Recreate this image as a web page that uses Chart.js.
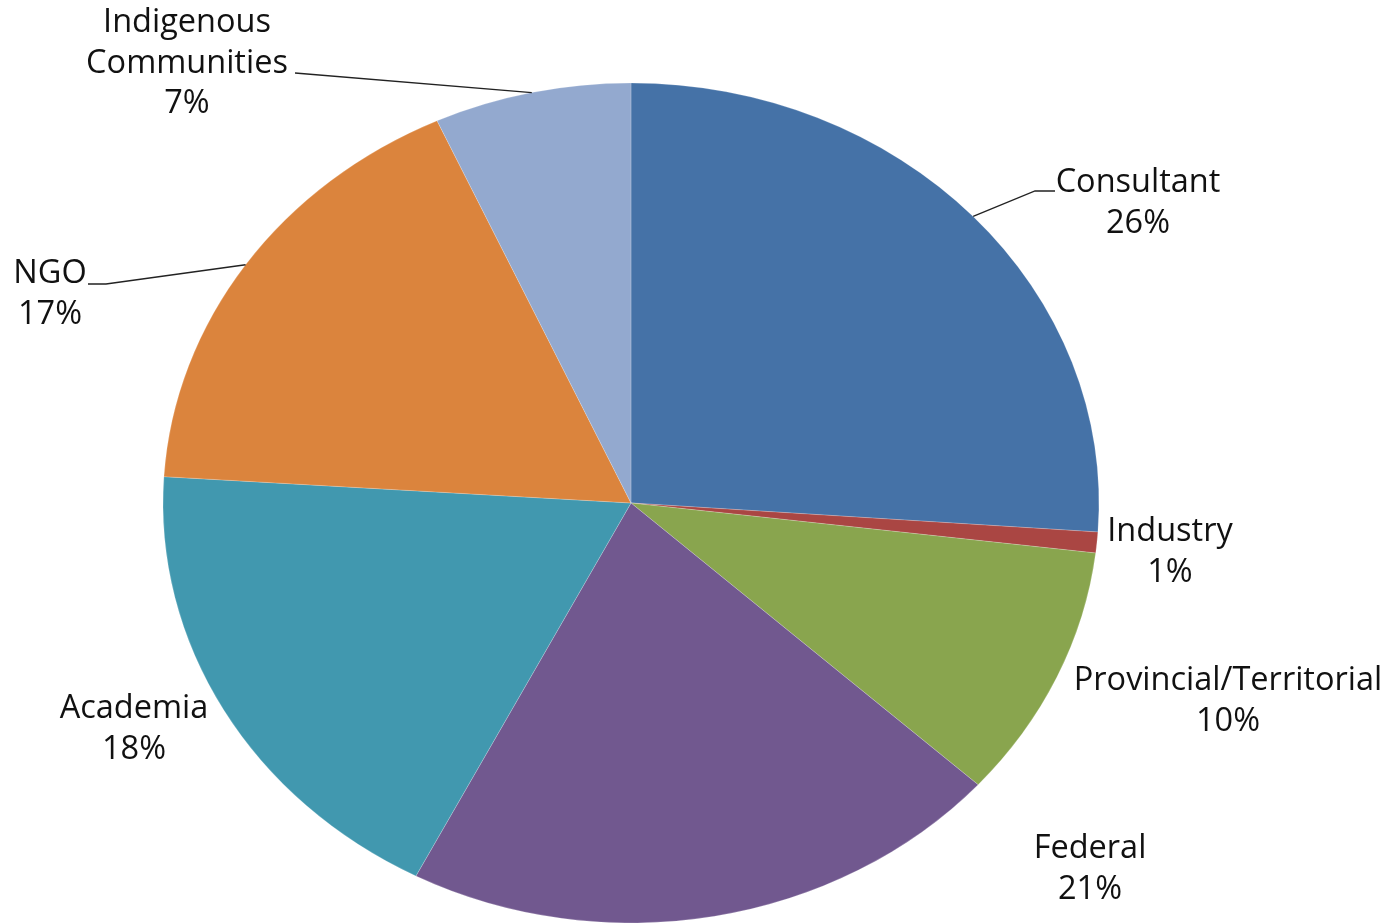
<!DOCTYPE html>
<html>
<head>
<meta charset="utf-8">
<script src="https://cdn.jsdelivr.net/npm/chart.js@4"></script>
<style>
  html, body { margin: 0; padding: 0; background: #fff; }
  #wrap { width: 1395px; height: 923px; }
</style>
</head>
<body>
<div id="wrap"><canvas id="pieChart"></canvas></div>
<script>
// data (shares in %)
const categories = ['Consultant', 'Industry', 'Provincial/Territorial', 'Federal', 'Academia', 'NGO', 'Indigenous Communities'];
const shares = [26.1, 0.8, 9.8, 20.9, 18.4, 17.2, 6.8];
const sliceColors = ['#4572A7', '#AA4643', '#89A54E', '#71588F', '#4198AF', '#DB843D', '#93A9CF'];

// label layout (text block centre x, first line y, label lines, leader elbow points)
const labelLines = [['Consultant'], ['Industry'], ['Provincial/Territorial'], ['Federal'], ['Academia'], ['NGO'], ['Indigenous', 'Communities']];
const labelPos = [
  { x: 1138, y: 183, leader: [[1035, 191], [1055, 191]] },
  { x: 1170, y: 532 },
  { x: 1228, y: 681 },
  { x: 1090, y: 849 },
  { x: 134, y: 709 },
  { x: 50, y: 274, leader: [[106, 284], [88, 284]] },
  { x: 187, y: 23, leader: [[295, 73]] }
];

const RX = 468, RY = 420;
const squash = RY / RX;

// pie is an ellipse in the reference: squash vertically around the centre
const ellipsePlugin = {
  id: 'ellipse',
  beforeDatasetsDraw(chart) {
    const arc = chart.getDatasetMeta(0).data[0];
    const ctx = chart.ctx;
    ctx.save();
    ctx.translate(arc.x, arc.y);
    ctx.scale(1, squash);
    ctx.translate(-arc.x, -arc.y);
  },
  afterDatasetsDraw(chart) {
    chart.ctx.restore();
  }
};

const labelPlugin = {
  id: 'pieLabels',
  afterDraw(chart) {
    const ctx = chart.ctx;
    const meta = chart.getDatasetMeta(0);
    const total = shares.reduce((a, b) => a + b, 0);
    ctx.save();
    ctx.font = '32.5px "Open Sans"';
    ctx.fillStyle = '#111';
    ctx.textAlign = 'center';
    ctx.textBaseline = 'middle';
    meta.data.forEach((arc, i) => {
      const p = labelPos[i];
      const lines = labelLines[i].concat([Math.round(shares[i] / total * 100) + '%']);
      lines.forEach((t, k) => ctx.fillText(t, p.x, p.y + k * 40.5));
      if (p.leader) {
        const mid = (arc.startAngle + arc.endAngle) / 2;
        const ex = arc.x + Math.cos(mid) * arc.outerRadius;
        const ey = arc.y + Math.sin(mid) * arc.outerRadius * squash;
        ctx.beginPath();
        ctx.moveTo(ex, ey);
        p.leader.forEach(pt => ctx.lineTo(pt[0], pt[1]));
        ctx.strokeStyle = '#222';
        ctx.lineWidth = 1.3;
        ctx.stroke();
      }
    });
    ctx.restore();
  }
};

new Chart(document.getElementById('pieChart'), {
  type: 'pie',
  data: {
    labels: categories,
    datasets: [{
      data: shares,
      backgroundColor: sliceColors,
      borderColor: 'rgba(255,255,255,0.35)',
      borderWidth: 0.6,
      radius: RX
    }]
  },
  options: {
    responsive: true,
    maintainAspectRatio: false,
    animation: false,
    layout: { padding: { left: 0, right: 133, top: 83, bottom: 0 } },
    plugins: {
      legend: { display: false },
      tooltip: { enabled: false }
    }
  },
  plugins: [ellipsePlugin, labelPlugin]
});
</script>
</body>
</html>
